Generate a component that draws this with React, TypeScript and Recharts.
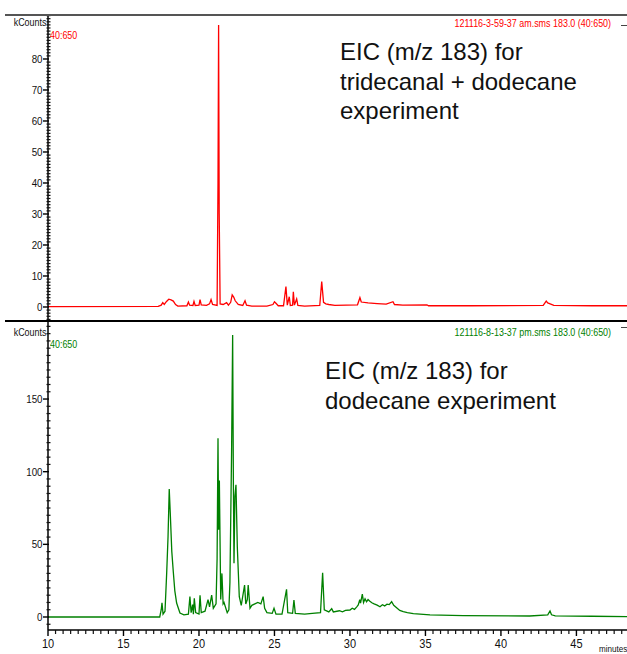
import React from 'react';
import { LineChart, Line, XAxis, YAxis } from 'recharts';

// retention time (minutes) and intensity (kCounts)
const topTimes = [
  10.0, 17.3, 17.5, 17.6, 17.7, 17.85, 18.0, 18.15, 18.3, 18.45, 18.6, 19.2, 19.3, 19.38, 19.6, 19.67,
  19.75, 20.0, 20.07, 20.15, 20.5, 20.7, 20.8, 20.9, 21.2, 21.26, 21.3, 21.34, 21.4, 21.6, 21.83, 21.95,
  22.1, 22.2, 22.3, 22.4, 22.6, 22.9, 23.05, 23.15, 23.5, 24.5, 24.9, 25.0, 25.1, 25.25, 25.6, 25.76,
  25.85, 25.98, 26.05, 26.2, 26.25, 26.32, 26.47, 26.55, 27.0, 28.0, 28.13, 28.25, 28.4, 28.6, 29.0, 30.5,
  30.66, 30.75, 31.2, 31.8, 32.4, 32.85, 32.95, 33.5, 35.1, 35.2, 38.0, 42.8, 43.0, 43.1, 43.3, 43.5,
  46.0, 48.35,
];
const topCounts = [
  0.1, 0.2, 0.6, 1.4, 0.8, 1.8, 2.5, 2.3, 1.9, 0.8, 0.3, 0.4, 1.6, 0.6, 0.5, 1.8,
  0.5, 0.6, 2.4, 0.7, 0.5, 1.0, 2.4, 0.8, 0.5, 40, 91, 30, 1.0, 0.8, 1.4, 0.6,
  1.5, 3.9, 3.2, 2.0, 0.8, 0.5, 2.0, 0.6, 0.3, 0.3, 0.8, 1.7, 1.2, 0.4, 0.4, 6.6,
  0.6, 3.3, 0.5, 0.6, 4.9, 0.6, 2.6, 0.5, 0.3, 0.5, 8.2, 1.5, 1.0, 0.8, 0.5, 0.7,
  3.0, 1.6, 1.3, 1.1, 0.9, 1.7, 0.8, 0.6, 0.7, 0.4, 0.4, 0.5, 1.9, 1.3, 0.9, 0.5,
  0.4, 0.4,
];

const bottomTimes = [
  10.0, 17.4, 17.5, 17.55, 17.62, 17.75, 17.86, 17.95, 18.03, 18.1, 18.2, 18.3, 18.4, 18.52, 18.74, 19.0,
  19.3, 19.4, 19.48, 19.58, 19.63, 19.69, 19.78, 20.0, 20.07, 20.15, 20.4, 20.6, 20.7, 20.84, 20.95, 21.13,
  21.2, 21.26, 21.3, 21.35, 21.44, 21.52, 21.6, 21.66, 21.87, 21.98, 22.05, 22.16, 22.23, 22.28, 22.32, 22.38,
  22.45, 22.54, 22.67, 22.8, 23.02, 23.1, 23.2, 23.26, 23.38, 23.5, 23.7, 23.9, 24.1, 24.25, 24.35, 24.5,
  24.85, 24.97, 25.1, 25.5, 25.8, 25.88, 26.2, 26.29, 26.38, 27.0, 27.5, 28.05, 28.19, 28.3, 28.6, 28.79,
  28.9, 29.3, 29.5, 29.7, 30.0, 30.15, 30.3, 30.45, 30.55, 30.65, 30.7, 30.82, 30.9, 31.0, 31.1, 31.2,
  31.3, 31.45, 31.6, 31.8, 31.99, 32.15, 32.3, 32.45, 32.6, 32.76, 32.9, 33.09, 33.3, 33.53, 33.8, 34.2,
  35.3, 37.5, 41.9, 43.1, 43.25, 43.35, 43.6, 46.0, 48.35,
];
const bottomCounts = [
  0, 0, 5, 9.8, 2, 4, 30, 55, 88, 71, 45, 31, 18, 9.6, 2.7, 1.5,
  2, 14, 3, 8.5, 2, 12.8, 3, 2, 15, 3, 4, 12, 7, 15, 6, 9,
  40, 123, 60, 94, 12, 30, 9, 10, 3, 5, 24, 114, 194, 90, 37, 83,
  91, 48, 14, 8, 22, 9, 12, 22, 6, 8, 9, 10, 9, 14, 6, 3,
  2.5, 6, 2, 2, 19, 3, 2.5, 11.7, 2.5, 2.0, 2.5, 3, 30.5, 5, 3.5, 5.7,
  3.5, 4.3, 3.6, 4.5, 4.8, 6.0, 5.2, 7.0, 8.3, 12, 9.5, 15.8, 10, 12.5, 10.5, 12,
  11, 9.8, 9, 8.2, 7, 8.4, 7.6, 8.8, 8.5, 10.5, 8, 6.4, 4.5, 3.7, 3.0, 2.3,
  1.5, 1.0, 0.7, 1.5, 4.1, 1.5, 0.8, 0.5, 0.3,
];

const xMajorTicks = [10, 15, 20, 25, 30, 35, 40, 45];
const topMajorTicks = [0, 10, 20, 30, 40, 50, 60, 70, 80];
const bottomMajorTicks = [0, 50, 100, 150];

const xMinorTicks: number[] = [];
for (let t = 10; t <= 48; t += 0.5) xMinorTicks.push(t);
const topMinorTicks: number[] = [];
for (let v = -4; v <= 94; v += 1) topMinorTicks.push(v);
const bottomMinorTicks: number[] = [];
for (let v = -5; v <= 200; v += 5) bottomMinorTicks.push(v);

const topData = topTimes.map((t, i) => ({ t, v: topCounts[i] }));
const bottomData = bottomTimes.map((t, i) => ({ t, v: bottomCounts[i] }));

const FONT = '"Liberation Sans", Arial, sans-serif';
const X_DOMAIN: [number, number] = [10, 48.35];

// with tickSize/tickMargin 0 the tick anchor sits on the axis line
const YTick = ({ x, y, payload, majors }: any) => {
  if (majors.includes(payload.value)) {
    return (
      <g>
        <rect x={x - 5} y={y - 0.7} width={6} height={1.4} fill="#000" />
        <text
          transform={`translate(${x - 5.5},${y + 4}) scale(0.85,1)`}
          textAnchor="end"
          fontSize={11.5}
          fontFamily={FONT}
          fill="#111"
        >
          {payload.value}
        </text>
      </g>
    );
  }
  return <rect x={x - 1.5} y={y - 0.6} width={4} height={1.2} fill="#111" />;
};

const XTick = ({ x, y, payload }: any) => {
  if (xMajorTicks.includes(payload.value)) {
    return (
      <g>
        <rect x={x - 0.7} y={y} width={1.4} height={6} fill="#000" />
        <text
          transform={`translate(${x},${y + 18}) scale(0.88,1)`}
          textAnchor="middle"
          fontSize={12.5}
          fontFamily={FONT}
          fill="#111"
        >
          {payload.value}
        </text>
      </g>
    );
  }
  return <rect x={x - 0.6} y={y} width={1.2} height={4} fill="#111" />;
};

const small: React.CSSProperties = {
  position: 'absolute',
  fontFamily: FONT,
  fontSize: 10.5,
  lineHeight: '12px',
  whiteSpace: 'nowrap',
  transform: 'scaleX(0.85)',
};

const note: React.CSSProperties = {
  position: 'absolute',
  fontFamily: FONT,
  fontSize: 24,
  lineHeight: '29.5px',
  color: '#111',
  whiteSpace: 'nowrap',
};

export default function App() {
  return (
    <div style={{ position: 'absolute', left: 0, top: 0, width: 627, height: 654, background: '#fff', overflow: 'hidden' }}>
      <div style={{ position: 'absolute', left: 0, top: 0 }}>
        <LineChart width={627} height={321} data={topData} margin={{ top: 15, right: 0, bottom: 0, left: 0 }}>
          <XAxis type="number" dataKey="t" domain={X_DOMAIN} allowDataOverflow hide />
          <YAxis
            type="number"
            width={48}
            domain={[-4.52, 94.19]}
            allowDataOverflow
            ticks={topMinorTicks}
            interval={0}
            tickSize={0}
            tickMargin={0}
            tickLine={false}
            axisLine={{ stroke: '#000', strokeWidth: 1.5 }}
            tick={(p: any) => <YTick {...p} majors={topMajorTicks} />}
          />
          <Line type="linear" dataKey="v" stroke="#ff0000" strokeWidth={1.3} dot={false} isAnimationActive={false} />
        </LineChart>
      </div>

      <div style={{ position: 'absolute', left: 0, top: 321 }}>
        <LineChart width={627} height={333} data={bottomData} margin={{ top: 0, right: 0, bottom: 0, left: 0 }}>
          <XAxis
            type="number"
            dataKey="t"
            domain={X_DOMAIN}
            allowDataOverflow
            height={24}
            ticks={xMinorTicks}
            interval={0}
            tickSize={0}
            tickMargin={0}
            tickLine={false}
            axisLine={{ stroke: '#000', strokeWidth: 1.5 }}
            tick={(p: any) => <XTick {...p} />}
          />
          <YAxis
            type="number"
            width={48}
            domain={[-8.95, 203.7]}
            allowDataOverflow
            ticks={bottomMinorTicks}
            interval={0}
            tickSize={0}
            tickMargin={0}
            tickLine={false}
            axisLine={{ stroke: '#000', strokeWidth: 1.5 }}
            tick={(p: any) => <YTick {...p} majors={bottomMajorTicks} />}
          />
          <Line type="linear" dataKey="v" stroke="#008000" strokeWidth={1.3} dot={false} isAnimationActive={false} />
        </LineChart>
      </div>

      {/* frame lines */}
      <div style={{ position: 'absolute', left: 5, top: 14, width: 622, height: 1.5, background: '#555' }} />
      <div style={{ position: 'absolute', left: 5, top: 320, width: 622, height: 2, background: '#000' }} />
      <div style={{ position: 'absolute', left: 621, top: 25, width: 6, height: 1, background: '#444' }} />
      <div style={{ position: 'absolute', left: 621, top: 327, width: 6, height: 1, background: '#444' }} />

      {/* top panel texts */}
      <div style={{ ...small, left: 8, top: 16, color: '#111', transformOrigin: 'right center', width: 38, textAlign: 'right' }}>kCounts</div>
      <div style={{ ...small, left: 50, top: 29, color: '#ff0000', transformOrigin: 'left center' }}>40:650</div>
      <div style={{ ...small, right: 16, top: 17, color: '#ff0000', transformOrigin: 'right center' }}>
        121116-3-59-37 am.sms 183.0 (40:650)
      </div>
      <div style={{ ...note, left: 340, top: 37 }}>
        EIC (m/z 183) for
        <br />
        tridecanal + dodecane
        <br />
        experiment
      </div>

      {/* bottom panel texts */}
      <div style={{ ...small, left: 8, top: 326, color: '#111', transformOrigin: 'right center', width: 38, textAlign: 'right' }}>kCounts</div>
      <div style={{ ...small, left: 50, top: 338, color: '#008000', transformOrigin: 'left center' }}>40:650</div>
      <div style={{ ...small, right: 16, top: 326, color: '#008000', transformOrigin: 'right center' }}>
        121116-8-13-37 pm.sms 183.0 (40:650)
      </div>
      <div style={{ ...note, left: 325, top: 356 }}>
        EIC (m/z 183) for
        <br />
        dodecane experiment
      </div>

      <div style={{ ...small, fontSize: 9.5, right: 0, top: 643, color: '#111', transformOrigin: 'right center' }}>minutes</div>
    </div>
  );
}
